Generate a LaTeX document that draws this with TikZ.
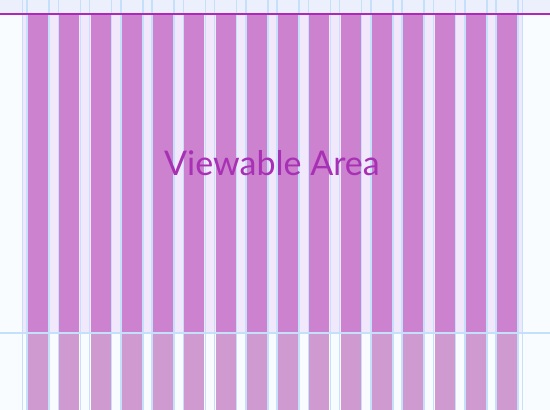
\documentclass[tikz,border=0pt]{standalone}
\usepackage{fontspec}
\setmainfont{Lato}
\definecolor{paper}{RGB}{248,252,255}
\definecolor{topband}{RGB}{236,240,252}
\definecolor{gutterfill}{RGB}{242,232,252}
\definecolor{guideblue}{RGB}{196,224,250}
\definecolor{colfill}{RGB}{204,130,206}
\definecolor{colfilllow}{RGB}{206,154,208}
\definecolor{marginline}{RGB}{176,40,184}
\definecolor{labelpurple}{RGB}{168,48,180}
\tikzset{
    % upper part of each column
    colbox/.style={fill=colfill, draw=none},
    % part under the fold line
    colboxlow/.style={fill=colfilllow, draw=none},
    guide/.style={guideblue, line width=1.5pt},
    areatext/.style={labelpurple, font=\fontsize{34}{40}\selectfont}
}
\begin{document}
\begin{tikzpicture}[x=1pt, y=1pt]
        \fill[paper] (0,0) rectangle (550,410);
        \useasboundingbox (0,0) rectangle (550,410);
        \fill[topband] (0,396) rectangle (550,410);
        \fill[gutterfill] (22,77) rectangle (523,396);

        \foreach \i in {0,...,15} {
            \pgfmathsetmacro{\xl}{28+31.27*\i}
            \fill[colbox] (\xl,77) rectangle ({\xl+20},396);
            \fill[colboxlow] (\xl,0) rectangle ({\xl+20},77);
            \draw[guide] ({\xl-1},0) -- ({\xl-1},410);
            \draw[guide] ({\xl+21},0) -- ({\xl+21},410);
        }
        \draw[guide] (22.5,0) -- (22.5,410);
        \draw[guide] (522.5,0) -- (522.5,410);

        \coordinate (foldL) at (0,77);
        \coordinate (foldR) at (550,77);
        \draw[guide, line width=2pt] (foldL) -- (foldR);
        \coordinate (topL) at (0,396);
        \coordinate (topR) at (550,396);
        \draw[marginline, line width=1.6pt] (topL) -- (topR);

        \node[areatext] (area) at (272,247) {Viewable Area};
\end{tikzpicture}
\end{document}
